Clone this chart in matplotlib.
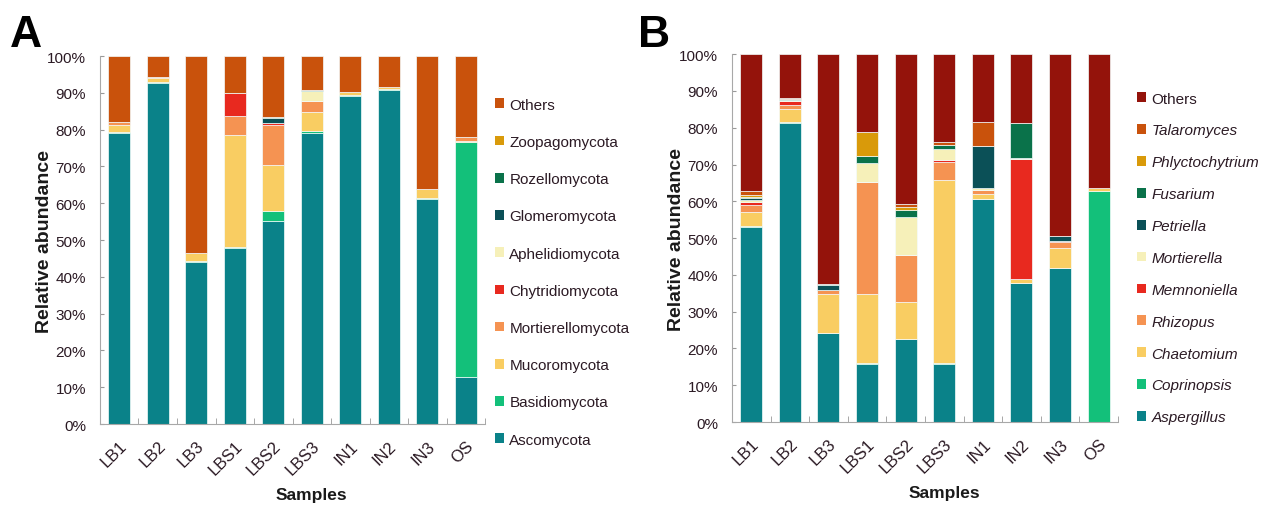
import matplotlib
matplotlib.use('Agg')
import matplotlib.pyplot as plt
from matplotlib.patches import Patch
import numpy as np

plt.rcParams['font.family'] = ['Liberation Sans', 'DejaVu Sans']

samples = ['LB1', 'LB2', 'LB3', 'LBS1', 'LBS2', 'LBS3', 'IN1', 'IN2', 'IN3', 'OS']

# phylum level (%), bottom to top of each bar
ascomycota        = [79.1, 92.6, 44.0, 47.7, 55.2, 79.2, 89.2, 90.8, 61.1, 12.8]
basidiomycota     = [0.3, 0.3, 0.2, 0.3, 2.7, 0.4, 0.2, 0.2, 0.2, 63.8]
mucoromycota      = [1.8, 1.1, 2.2, 30.5, 12.5, 5.2, 0.8, 0.6, 2.5, 0.3]
mortierellomycota = [1.0, 0.3, 0.0, 5.2, 10.8, 3.0, 0.0, 0.0, 0.0, 1.2]
chytridiomycota   = [0.0, 0.0, 0.0, 6.3, 0.7, 0.0, 0.0, 0.0, 0.0, 0.0]
aphelidiomycota   = [0.0, 0.0, 0.0, 0.0, 0.0, 2.7, 0.0, 0.0, 0.0, 0.0]
glomeromycota     = [0.0, 0.0, 0.0, 0.0, 1.3, 0.0, 0.0, 0.0, 0.0, 0.0]
rozellomycota     = [0.0, 0.0, 0.0, 0.0, 0.3, 0.3, 0.0, 0.0, 0.0, 0.0]
zoopagomycota     = [0.0, 0.0, 0.0, 0.0, 0.0, 0.0, 0.0, 0.0, 0.0, 0.0]
others_phylum     = [17.8, 5.7, 53.6, 10.0, 16.5, 9.2, 9.8, 8.4, 36.2, 21.9]

# genus level (%)
aspergillus     = [53.1, 81.4, 24.1, 15.8, 22.5, 15.9, 60.5, 37.7, 41.8, 0.0]
coprinopsis     = [0.2, 0.2, 0.2, 0.2, 0.2, 0.2, 0.2, 0.2, 0.2, 62.8]
chaetomium      = [3.9, 3.6, 10.4, 18.7, 9.9, 49.7, 1.4, 1.1, 5.2, 0.8]
rhizopus        = [1.7, 1.1, 1.2, 30.6, 12.7, 4.9, 0.9, 0.0, 1.8, 0.0]
memnoniella     = [0.9, 0.9, 0.0, 0.0, 0.0, 0.6, 0.0, 32.6, 0.3, 0.0]
mortierella     = [0.6, 0.3, 0.0, 5.0, 10.5, 3.0, 0.6, 0.2, 0.0, 0.0]
petriella       = [0.4, 0.0, 1.3, 0.0, 0.0, 0.0, 11.5, 0.0, 1.3, 0.0]
fusarium        = [0.5, 0.3, 0.3, 1.9, 1.9, 0.9, 0.0, 9.6, 0.0, 0.0]
phlyctochytrium = [0.3, 0.0, 0.0, 6.7, 0.8, 0.0, 0.0, 0.0, 0.0, 0.0]
talaromyces     = [1.2, 0.3, 0.0, 0.0, 0.7, 1.0, 6.5, 0.0, 0.0, 0.0]
others_genus    = [37.2, 11.9, 62.5, 21.1, 40.8, 23.8, 18.4, 18.6, 49.4, 36.4]

phylum_names = ['Ascomycota', 'Basidiomycota', 'Mucoromycota', 'Mortierellomycota',
                'Chytridiomycota', 'Aphelidiomycota', 'Glomeromycota', 'Rozellomycota',
                'Zoopagomycota', 'Others']
phylum_data = [ascomycota, basidiomycota, mucoromycota, mortierellomycota, chytridiomycota,
               aphelidiomycota, glomeromycota, rozellomycota, zoopagomycota, others_phylum]

genus_names = ['Aspergillus', 'Coprinopsis', 'Chaetomium', 'Rhizopus', 'Memnoniella',
               'Mortierella', 'Petriella', 'Fusarium', 'Phlyctochytrium', 'Talaromyces', 'Others']
genus_data = [aspergillus, coprinopsis, chaetomium, rhizopus, memnoniella, mortierella,
              petriella, fusarium, phlyctochytrium, talaromyces, others_genus]

teal = '#0a8289'
green = '#13c07a'
yellow = '#f9cd62'
salmon = '#f59352'
red = '#e8291f'
pale = '#f6f0b9'
darkteal = '#0b5057'
darkgreen = '#0a724a'
amber = '#d99a0a'
rust = '#c9520c'
maroon = '#94130b'

phylum_colors = [teal, green, yellow, salmon, red, pale, darkteal, darkgreen, amber, rust]
genus_colors = [teal, green, yellow, salmon, red, pale, darkteal, darkgreen, amber, rust, maroon]

txt = '#2b1a24'


def stacked(ax, names, data, colors):
    x = np.arange(len(samples))
    bottom = np.zeros(len(samples))
    for name, vals, c in zip(names, data, colors):
        vals = np.array(vals)
        ax.bar(x, vals, 0.57, bottom=bottom, color=c, edgecolor='#f4fbfb', linewidth=0.5)
        bottom += vals
    ax.set_xlim(-0.5, len(samples) - 0.5)
    ax.set_ylim(0, 100)
    ax.set_yticks(np.arange(0, 101, 10))
    ax.set_yticklabels(['%d%%' % v for v in range(0, 101, 10)], fontsize=11, color=txt)
    ax.set_xticks(x)
    ax.set_xticklabels(samples, rotation=45, ha='right', rotation_mode='anchor',
                       fontsize=12, color=txt)
    ax.set_xticks(np.arange(-0.5, len(samples)), minor=True)
    ax.tick_params(axis='x', which='major', length=0, pad=10)
    ax.tick_params(axis='x', which='minor', direction='in', length=4, color='#999999')
    ax.tick_params(axis='y', direction='in', length=3, color='#999999', pad=10)
    for s in ['top', 'right']:
        ax.spines[s].set_visible(False)
    for s in ['left', 'bottom']:
        ax.spines[s].set_color('#a8a8a8')
        ax.spines[s].set_linewidth(0.8)
    ax.set_ylabel('Relative abundance', fontsize=14, fontweight='bold', color='#1a1a1a', labelpad=-4)
    ax.set_xlabel('Samples', fontsize=12.5, fontweight='bold', color='#1a1a1a')
    ax.xaxis.set_label_coords(0.55, -0.17)

    handles = [Patch(facecolor=c, edgecolor='none') for c in colors][::-1]
    labels = names[::-1]
    return handles, labels


fig = plt.figure(figsize=(12.69, 5.06), dpi=100)
axA = fig.add_axes([0.0788, 0.160, 0.3034, 0.7273])
axB = fig.add_axes([0.5768, 0.164, 0.3042, 0.727])

h, l = stacked(axA, phylum_names, phylum_data, phylum_colors)
legA = fig.legend(h, l, loc='upper left', bbox_to_anchor=(0.390, 0.805), frameon=False,
                  fontsize=11, handlelength=0.6, handleheight=0.6, handletextpad=0.35,
                  labelspacing=1.52, borderaxespad=0, borderpad=0)
for t in legA.get_texts():
    t.set_color(txt)

h, l = stacked(axB, genus_names, genus_data, genus_colors)
legB = fig.legend(h, l, loc='upper left', bbox_to_anchor=(0.896, 0.817), frameon=False,
                  fontsize=11, handlelength=0.6, handleheight=0.6, handletextpad=0.35,
                  labelspacing=1.17, borderaxespad=0, borderpad=0)
for t in legB.get_texts():
    t.set_color(txt)
    if t.get_text() != 'Others':
        t.set_fontstyle('italic')

fig.text(0.008, 0.93, 'A', fontsize=32, fontweight='bold', va='center', ha='left')
fig.text(0.503, 0.93, 'B', fontsize=32, fontweight='bold', va='center', ha='left')

fig.savefig('out.png', dpi=100)
